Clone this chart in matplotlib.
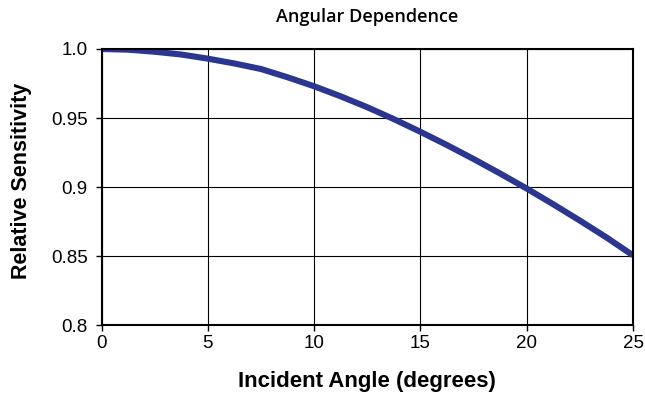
import matplotlib.pyplot as plt

# incident angle (deg) and relative sensitivity
angle = [0, 1.25, 2.5, 3.75, 5, 6.25, 7.5, 8.75, 10, 11.25, 12.5,
         13.75, 15, 16.25, 17.5, 18.75, 20, 21.25, 22.5, 23.75, 25]
sensitivity = [1.0, 0.9995, 0.998, 0.996, 0.993, 0.9895, 0.9855, 0.9795, 0.973, 0.9657, 0.9578,
               0.9492, 0.940, 0.9304, 0.9203, 0.9098, 0.8989, 0.8875, 0.8757, 0.8635, 0.8505]

x_ticks = [0, 5, 10, 15, 20, 25]
y_ticks = [0.8, 0.85, 0.9, 0.95, 1.0]
y_labels = ["0.8", "0.85", "0.9", "0.95", "1.0"]

plt.rcParams['font.family'] = ['Liberation Sans', 'DejaVu Sans']

fig = plt.figure(figsize=(6.45, 3.95), dpi=100)
ax = fig.add_axes([0.1574, 0.177, 0.824, 0.699])

ax.plot(angle, sensitivity, color='#2b3691', lw=4.4, solid_capstyle='butt',
        solid_joinstyle='round')

ax.set_xlim(0, 25)
ax.set_ylim(0.8, 1.0)
ax.set_xticks(x_ticks)
ax.set_yticks(y_ticks)
ax.set_yticklabels(y_labels)
ax.grid(True, color='black', lw=0.8)
ax.set_axisbelow(True)
ax.tick_params(direction='out', length=4, width=1, labelsize=13.5)
ax.tick_params(axis='y', pad=6)
ax.tick_params(axis='x', pad=3)
for s in ax.spines.values():
    s.set_linewidth(1.5)

fig.text(0.569, 1 - 381 / 395, 'Incident Angle (degrees)', ha='center', va='center',
         fontsize=16, fontweight='bold')
fig.text(22 / 645, 1 - 181 / 395, 'Relative Sensitivity', ha='center', va='center',
         rotation=90, fontsize=15.5, fontweight='bold')
fig.text(0.569, 1 - 17 / 395, 'Angular Dependence', ha='center', va='center',
         fontsize=13, fontweight='semibold', family='Open Sans')

fig.savefig('out.png', dpi=100)
